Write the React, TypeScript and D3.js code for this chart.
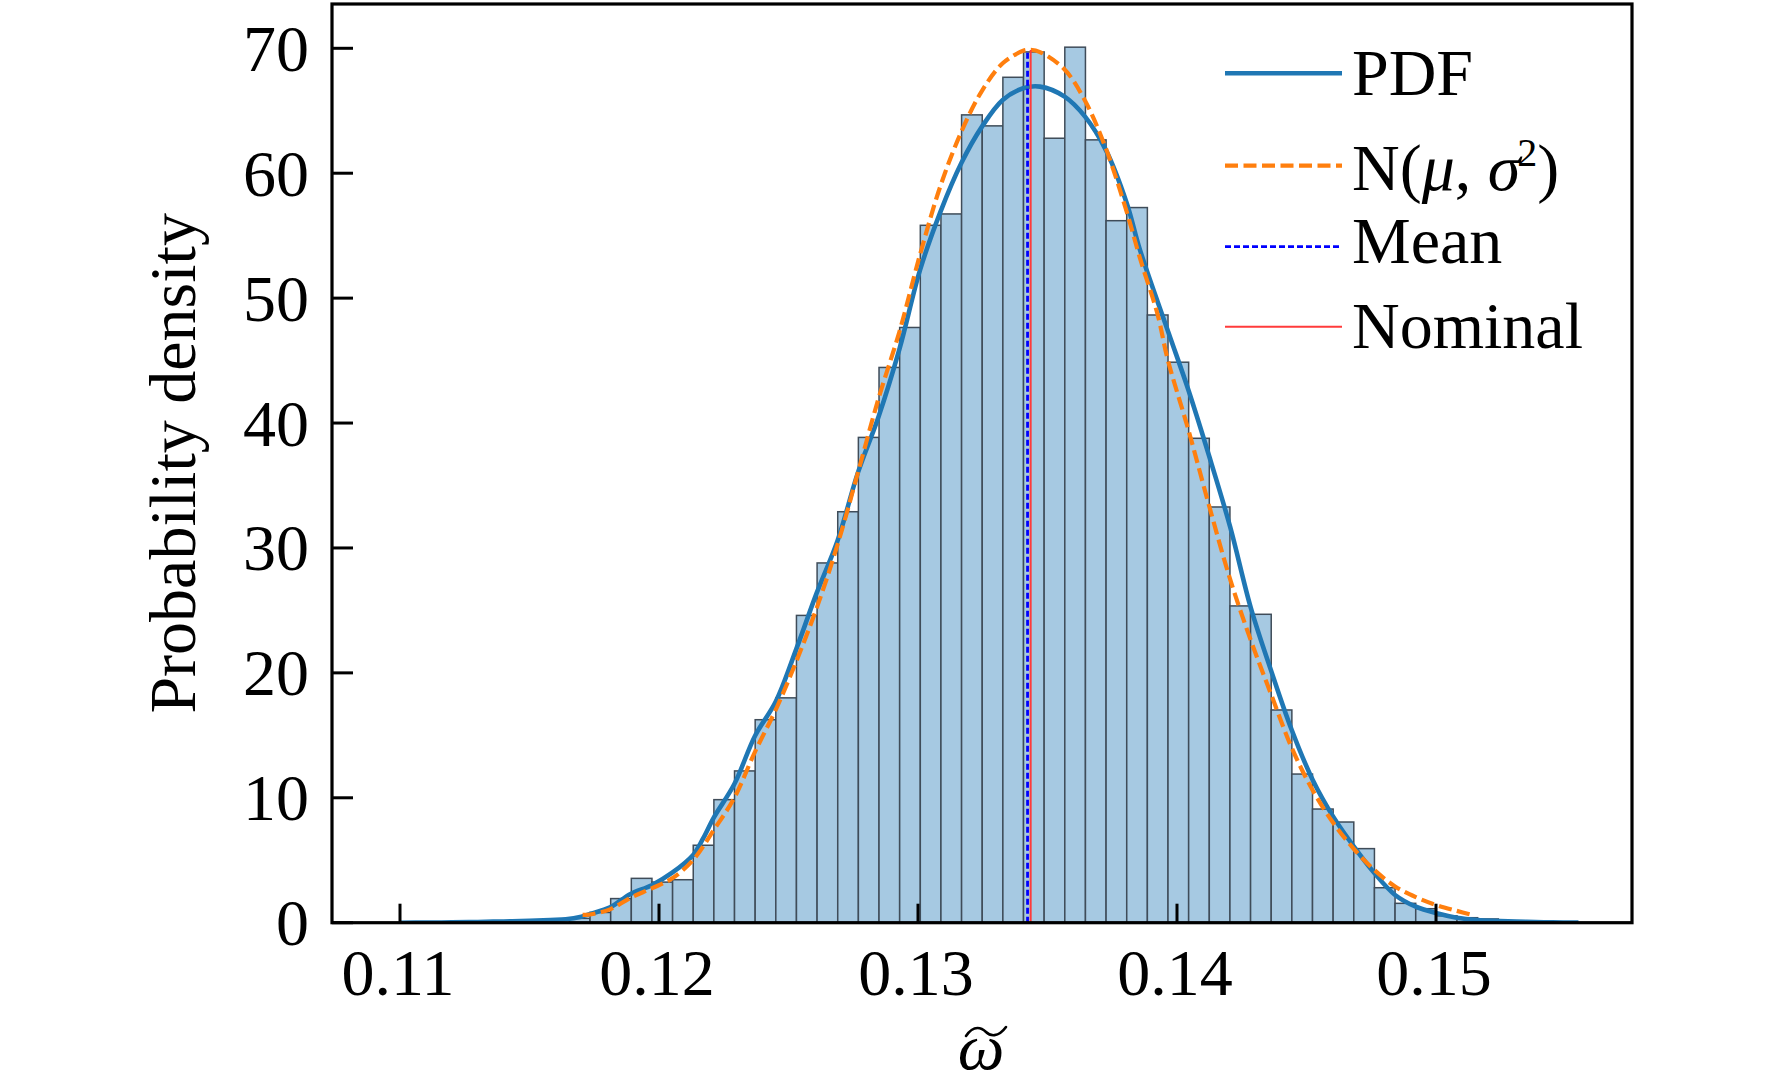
import React from "react";
import * as d3 from "d3";

// ---------- data ----------
const HIST_START = 0.11654;
const BIN_WIDTH = 0.000797;
const histDensity = [
  0.35, 0.82, 1.93, 3.55, 3.25, 3.44, 6.2, 9.85, 12.15, 16.25, 18.0, 24.6, 28.8,
  32.9, 38.85, 44.45, 47.65, 55.83, 56.74, 64.67, 63.79, 67.68, 69.71, 62.8,
  70.09, 62.67, 56.2, 57.25, 48.65, 44.87, 38.78, 33.28, 25.36, 24.69, 17.03,
  11.9, 9.1, 8.06, 5.93, 2.8, 1.55, 1.12, 0.55, 0.4, 0.3,
];

const kdeX = [
  0.11, 0.111, 0.112, 0.113, 0.114, 0.115, 0.1158, 0.1164, 0.117, 0.11734,
  0.11811, 0.1189, 0.11972, 0.12051, 0.12131, 0.12171, 0.12211, 0.12291,
  0.12371, 0.12451, 0.1253, 0.12609, 0.12689, 0.12768, 0.12848, 0.12928,
  0.13008, 0.13087, 0.13167, 0.13247, 0.13327, 0.13406, 0.13471, 0.13566,
  0.13645, 0.13725, 0.13806, 0.13857, 0.13968, 0.14044, 0.14125, 0.14205,
  0.14285, 0.14363, 0.14443, 0.14524, 0.14603, 0.14683, 0.14763, 0.14842,
  0.14922, 0.15003, 0.1508, 0.1516, 0.15247, 0.1535, 0.1545, 0.1555,
];
const kdeY = [
  0.0, 0.01, 0.03, 0.06, 0.1, 0.15, 0.22, 0.27, 0.48, 0.7, 1.23, 2.3, 3.0, 4.0,
  5.4, 6.77, 8.4, 11.1, 14.97, 17.7, 21.9, 26.4, 30.56, 36.03, 40.53, 45.9,
  52.26, 56.93, 60.8, 63.73, 65.87, 66.8, 66.93, 66.13, 64.53, 61.87, 57.6,
  53.86, 47.19, 42.65, 37.3, 31.7, 25.2, 20.2, 15.43, 11.43, 8.49, 6.09, 3.95,
  2.22, 1.28, 0.75, 0.4, 0.22, 0.14, 0.07, 0.03, 0.01,
];

const normX = [
  0.11705, 0.11734, 0.11811, 0.11891, 0.11972, 0.12051, 0.12131, 0.12211,
  0.12291, 0.12371, 0.12451, 0.1253, 0.12609, 0.12689, 0.12768, 0.12848,
  0.12928, 0.13008, 0.13087, 0.13167, 0.13247, 0.13327, 0.13406, 0.13433,
  0.13471, 0.13566, 0.13645, 0.13725, 0.13806, 0.13857, 0.13925, 0.13964,
  0.14044, 0.14125, 0.14205, 0.14285, 0.14363, 0.14443, 0.14524, 0.14603,
  0.14683, 0.14763, 0.14842, 0.14922, 0.15003, 0.1508, 0.1514,
];
const normY = [
  0.62, 0.66, 1.07, 2.0, 2.75, 3.55, 5.0, 7.41, 10.0, 13.7, 17.06, 20.92,
  25.2, 30.24, 36.03, 42.0, 47.29, 53.5, 59.0, 63.3, 66.6, 68.8, 69.8, 69.87,
  69.7, 68.3, 65.8, 62.0, 56.9, 53.2, 48.7, 45.1, 39.45, 33.3, 27.5, 22.6,
  18.3, 14.0, 10.6, 8.0, 5.9, 4.2, 2.9, 2.05, 1.4, 0.95, 0.62,
];

const MEAN = 0.13423;
const NOMINAL = 0.13435;
const VLINE_TOP = 69.87;

const xTicks = [0.11, 0.12, 0.13, 0.14, 0.15];
const xTickLabels = ["0.11", "0.12", "0.13", "0.14", "0.15"];
const yTicks = [0, 10, 20, 30, 40, 50, 60, 70];
const yTickLabels = ["0", "10", "20", "30", "40", "50", "60", "70"];

const legendItems = ["PDF", "N", "Mean", "Nominal"];

// ---------- layout ----------
const W = 1772;
const H = 1092;
const L = 332;
const R = 1632;
const T = 4;
const B = 922.7;
const FONT = "'Liberation Serif', 'Times New Roman', Times, serif";
const FS = 66;

const x = d3
  .scaleLinear()
  .domain([0.11 - (400 - L) / 25900, 0.15 + (R - 1436) / 25900])
  .range([L, R]);
const y = d3
  .scaleLinear()
  .domain([0, 70 + (48.3 - T) / 12.491])
  .range([B, T]);

const C_PDF = "#1f77b4";
const C_NORM = "#ff7f0e";
const C_MEAN = "#0000ff";
const C_NOM = "#ff3b3b";

export default function App() {
  const bins = histDensity.map((v, i) => ({
    x0: HIST_START + i * BIN_WIDTH,
    x1: HIST_START + (i + 1) * BIN_WIDTH,
    v,
  }));

  const line = d3
    .line<[number, number]>()
    .x((d) => x(d[0]))
    .y((d) => y(d[1]))
    .curve(d3.curveCatmullRom.alpha(0.5));

  const kdePath = line(kdeX.map((v, i) => [v, kdeY[i]]));
  const normPath = line(normX.map((v, i) => [v, normY[i]]));

  const legendLineY = [73.3, 165.7, 246.7, 326.7];
  const legendTextY = [95, 190, 263, 348];
  const lx1 = 1225;
  const lx2 = 1342;
  const tx = 1352;

  // tilde accent over the x-axis symbol
  const tcx = 986;
  const tcy = 1032;
  const tildePath = `M${tcx - 20},${tcy + 4} C${tcx - 12},${tcy - 8} ${tcx - 4},${tcy - 4} ${tcx},${tcy} S${tcx + 12},${tcy + 6} ${tcx + 20},${tcy - 5}`;

  return (
    <div style={{ position: "absolute", left: 0, top: 0, width: W, height: H, background: "#fff" }}>
      <svg width={W} height={H} viewBox={`0 0 ${W} ${H}`} style={{ display: "block" }}>
        <rect x={0} y={0} width={W} height={H} fill="#fff" />
        <defs>
          <clipPath id="plotClip">
            <rect x={L} y={T} width={R - L} height={B - T} />
          </clipPath>
        </defs>
        <g clipPath="url(#plotClip)">
          {bins.map((b, i) => (
            <rect
              key={i}
              x={x(b.x0)}
              y={y(b.v)}
              width={x(b.x1) - x(b.x0)}
              height={y(0) - y(b.v)}
              fill="#a6c9e2"
              stroke="#3f4c59"
              strokeWidth={1.5}
            />
          ))}
          <path d={kdePath || ""} fill="none" stroke={C_PDF} strokeWidth={4.6} />
          <path
            d={normPath || ""}
            fill="none"
            stroke={C_NORM}
            strokeWidth={4.2}
            strokeDasharray="13 5.5"
          />
          <line
            x1={x(MEAN)}
            x2={x(MEAN)}
            y1={y(0)}
            y2={y(VLINE_TOP)}
            stroke={C_MEAN}
            strokeWidth={2.8}
            strokeDasharray="6 3"
          />
          <line
            x1={x(NOMINAL)}
            x2={x(NOMINAL)}
            y1={y(0)}
            y2={y(VLINE_TOP)}
            stroke={C_NOM}
            strokeWidth={2}
          />
        </g>

        {/* ticks */}
        {xTicks.map((t) => (
          <line key={"xt" + t} x1={x(t)} x2={x(t)} y1={B} y2={B - 19} stroke="#000" strokeWidth={3} />
        ))}
        {yTicks.map((t) => (
          <line key={"yt" + t} x1={L} x2={L + 21} y1={y(t)} y2={y(t)} stroke="#000" strokeWidth={3} />
        ))}

        {/* frame */}
        <rect x={L} y={T} width={R - L} height={B - T} fill="none" stroke="#000" strokeWidth={3.2} />

        {/* tick labels */}
        {xTicks.map((t, i) => (
          <text
            key={"xl" + t}
            x={x(t) - 2}
            y={995}
            textAnchor="middle"
            fontFamily={FONT}
            fontSize={FS}
            fill="#000"
          >
            {xTickLabels[i]}
          </text>
        ))}
        {yTicks.map((t, i) => (
          <text
            key={"yl" + t}
            x={309}
            y={y(t) + 22.5}
            textAnchor="end"
            fontFamily={FONT}
            fontSize={FS}
            fill="#000"
          >
            {yTickLabels[i]}
          </text>
        ))}

        {/* axis labels */}
        <text
          transform={`translate(195, ${(T + B) / 2}) rotate(-90)`}
          textAnchor="middle"
          fontFamily={FONT}
          fontSize={FS}
          fill="#000"
        >
          Probability density
        </text>
        <text x={981} y={1069} textAnchor="middle" fontFamily={FONT} fontSize={FS} fontStyle="italic" fill="#000">
          ω
        </text>
        <path d={tildePath} fill="none" stroke="#000" strokeWidth={2.6} strokeLinecap="round" />

        {/* legend */}
        <line x1={lx1} x2={lx2} y1={legendLineY[0]} y2={legendLineY[0]} stroke={C_PDF} strokeWidth={4.6} />
        <line
          x1={lx1}
          x2={lx2}
          y1={legendLineY[1]}
          y2={legendLineY[1]}
          stroke={C_NORM}
          strokeWidth={4.2}
          strokeDasharray="13 5.5"
        />
        <line
          x1={lx1}
          x2={lx2}
          y1={legendLineY[2]}
          y2={legendLineY[2]}
          stroke={C_MEAN}
          strokeWidth={2.8}
          strokeDasharray="6 3"
        />
        <line x1={lx1} x2={lx2} y1={legendLineY[3]} y2={legendLineY[3]} stroke={C_NOM} strokeWidth={2} />

        <text x={tx} y={legendTextY[0]} fontFamily={FONT} fontSize={FS} fill="#000">
          {legendItems[0]}
        </text>
        <text x={tx} y={legendTextY[1]} fontFamily={FONT} fontSize={FS} fill="#000">
          {legendItems[1]}(<tspan fontStyle="italic">μ</tspan>, <tspan fontStyle="italic">σ</tspan>
          <tspan fontSize={40} dy={-24} dx={-3}>2</tspan>
          <tspan dy={24}>)</tspan>
        </text>
        <text x={tx} y={legendTextY[2]} fontFamily={FONT} fontSize={FS} fill="#000">
          {legendItems[2]}
        </text>
        <text x={tx} y={legendTextY[3]} fontFamily={FONT} fontSize={FS} fill="#000">
          {legendItems[3]}
        </text>
      </svg>
    </div>
  );
}
